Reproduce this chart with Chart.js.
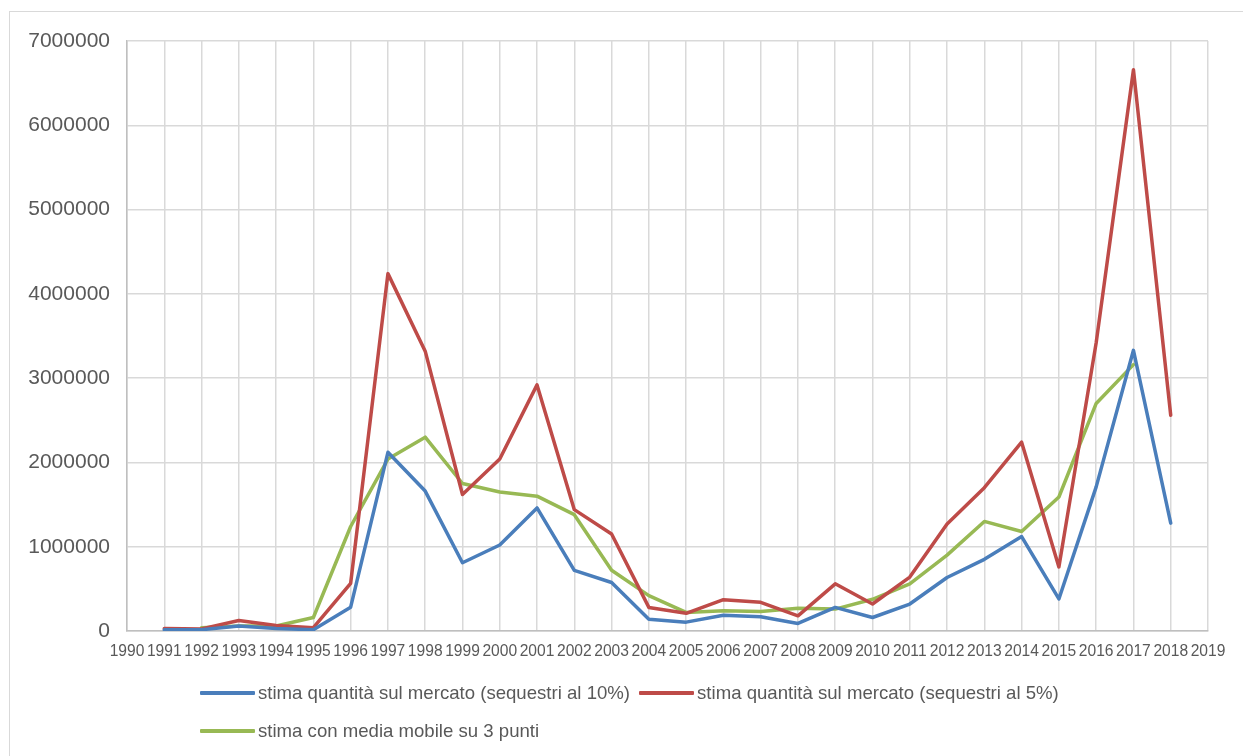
<!DOCTYPE html>
<html>
<head>
<meta charset="utf-8">
<script src="https://cdn.jsdelivr.net/npm/chart.js@4/dist/chart.umd.min.js"></script>
<style>
  html, body { margin: 0; padding: 0; background: #fff; }
  #wrap { position: relative; width: 1243px; height: 756px; overflow: hidden; font-family: Arial, "Liberation Sans", sans-serif; }
  #frame { position: absolute; left: 9px; top: 11px; width: 1300px; height: 800px; border: 1px solid #d9d9d9; box-sizing: border-box; }
  #c { position: absolute; left: 0; top: 0; }
  .row { position: absolute; left: 200px; display: flex; align-items: center; white-space: nowrap; font-size: 18.6px; line-height: 22px; color: #595959; }
  .item { display: flex; align-items: center; margin-right: 9px; }
  .swatch { width: 55px; height: 3.5px; margin-right: 3px; border-radius: 1px; }
</style>
</head>
<body>
<div id="wrap">
  <div id="frame"></div>
  <canvas id="c" width="1243" height="756"></canvas>
  <div class="row" id="row1" style="top:682px"></div>
  <div class="row" id="row2" style="top:720px"></div>
</div>
<script>
// Years on the category axis
const years = ['1990','1991','1992','1993','1994','1995','1996','1997','1998','1999',
               '2000','2001','2002','2003','2004','2005','2006','2007','2008','2009',
               '2010','2011','2012','2013','2014','2015','2016','2017','2018','2019'];

// Estimated quantity on the market, seizures at 10%
const stima10 = [null, 15000, 15000, 60000, 30000, 15000, 283000, 2120000, 1660000, 810000,
                 1020000, 1460000, 720000, 575000, 140000, 105000, 186000, 170000, 90000, 280000,
                 160000, 320000, 635000, 850000, 1120000, 380000, 1710000, 3330000, 1280000, null];

// Estimated quantity on the market, seizures at 5%
const stima5 = [null, 30000, 25000, 125000, 65000, 40000, 566000, 4240000, 3320000, 1620000,
                2040000, 2920000, 1440000, 1150000, 280000, 210000, 372000, 340000, 180000, 560000,
                320000, 640000, 1270000, 1700000, 2240000, 760000, 3420000, 6660000, 2560000, null];

// Estimate with a 3-point moving average
const mediaMobile = [null, null, 40000, 60000, 60000, 160000, 1240000, 2040000, 2300000, 1750000,
                     1650000, 1600000, 1380000, 720000, 420000, 220000, 240000, 230000, 270000, 260000,
                     376000, 560000, 900000, 1300000, 1180000, 1590000, 2700000, 3160000, null, null];

// Value axis ticks
const yTicks = [0, 1000000, 2000000, 3000000, 4000000, 5000000, 6000000, 7000000];

const seriesLabels = [
  'stima quantità sul mercato (sequestri al 10%)',
  'stima quantità sul mercato (sequestri al 5%)',
  'stima con media mobile su 3 punti'
];
const seriesColors = ['#4A7EBB', '#BE4B48', '#98B954'];

const lineStyle = (label, data, color) => ({
  label, data,
  borderColor: color,
  backgroundColor: color,
  borderWidth: 3.5,
  pointRadius: 0,
  pointHoverRadius: 0,
  tension: 0,
  spanGaps: false,
  borderJoinStyle: 'round',
  borderCapStyle: 'round',
  fill: false
});

const chart = new Chart(document.getElementById('c'), {
  type: 'line',
  data: {
    labels: years,
    datasets: [
      lineStyle(seriesLabels[0], stima10, seriesColors[0]),
      lineStyle(seriesLabels[1], stima5, seriesColors[1]),
      lineStyle(seriesLabels[2], mediaMobile, seriesColors[2])
    ]
  },
  options: {
    responsive: false,
    animation: false,
    layout: { padding: { left: 0, top: 41, right: 35, bottom: 95 } },
    plugins: {
      legend: { display: false },
      tooltip: { enabled: false }
    },
    scales: {
      x: {
        type: 'category',
        offset: false,
        grid: { color: '#d9d9d9', lineWidth: 1.5, drawTicks: false },
        border: { color: '#bfbfbf', width: 1.5 },
        ticks: {
          autoSkip: false, maxRotation: 0, minRotation: 0,
          padding: 11,
          color: '#595959',
          font: { family: 'Arial, "Liberation Sans", sans-serif', size: 15.6 }
        },
        afterFit: s => { s.height = 30; }
      },
      y: {
        min: 0, max: 7000000,
        afterBuildTicks: s => { s.ticks = yTicks.map(v => ({ value: v })); },
        grid: { color: '#d9d9d9', lineWidth: 1.5, drawTicks: false },
        border: { color: '#bfbfbf', width: 1.5 },
        ticks: {
          padding: 17,
          color: '#595959',
          font: { family: 'Arial, "Liberation Sans", sans-serif', size: 21 },
          callback: v => String(v)
        },
        afterFit: s => { s.width = 127; }
      }
    }
  }
});

// Legend rows built from the dataset labels and colours
function addItem(rowId, i) {
  const item = document.createElement('div');
  item.className = 'item';
  const sw = document.createElement('div');
  sw.className = 'swatch';
  sw.style.background = seriesColors[i];
  const tx = document.createElement('span');
  tx.textContent = seriesLabels[i];
  item.appendChild(sw);
  item.appendChild(tx);
  document.getElementById(rowId).appendChild(item);
}
addItem('row1', 0);
addItem('row1', 1);
addItem('row2', 2);
</script>
</body>
</html>
